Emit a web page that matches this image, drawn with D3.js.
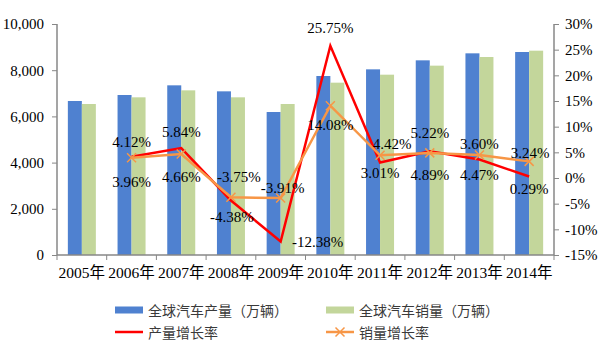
<!DOCTYPE html>
<html><head><meta charset="utf-8">
<script src="https://cdn.jsdelivr.net/npm/d3@7"></script>
<style>body{margin:0;background:#fff}svg{display:block}</style>
</head><body>
<svg id="c" width="600" height="345"></svg>
<script>
const years = ["2005年","2006年","2007年","2008年","2009年","2010年","2011年","2012年","2013年","2014年"];
const production = [6667, 6926, 7345, 7085, 6190, 7749, 8037, 8427, 8730, 8788];
const sales = [6537, 6826, 7128, 6826, 6537, 7460, 7806, 8197, 8571, 8845];
const prodGrowth = [null, 4.12, 5.84, -4.38, -12.38, 25.75, 3.01, 5.22, 3.60, 0.29];
const salesGrowth = [null, 3.96, 4.66, -3.75, -3.91, 14.08, 4.42, 4.89, 4.47, 3.24];
const leftTicks = [0, 2000, 4000, 6000, 8000, 10000];
const rightTicks = [-15, -10, -5, 0, 5, 10, 15, 20, 25, 30];
const legendNames = ["全球汽车产量（万辆）","全球汽车销量（万辆）","产量增长率","销量增长率"];

// label offsets (style only)
const prodLabelOff = [null,[0,-15],[0,-16],[1,17],[37,0],[0,-18],[0,10],[0,-18],[0,-16],[0,12]];
const salesLabelOff = [null,[0,24],[0,23],[8,-20],[2,-10],[0,19],[12,-11],[0,22],[0,20],[1,-8]];

const svg = d3.select("#c");
const L = 57, R = 554, T = 24, B = 255;
const x = d3.scaleBand().domain(years).range([L, R]);
const yL = d3.scaleLinear().domain([0, 10000]).range([B, T]);
const yR = d3.scaleLinear().domain([-15, 30]).range([B, T]);
const bw = 14;
const axisColor = "#878787";
const serif = "'Liberation Serif','Times New Roman','Noto Sans CJK SC',serif";

// bars
svg.append("g").selectAll("rect").data(production).join("rect")
  .attr("x", (d,i) => x(years[i]) + x.bandwidth()/2 - bw)
  .attr("y", d => yL(d)).attr("width", bw).attr("height", d => B - yL(d))
  .attr("fill", "#4F81D0");
svg.append("g").selectAll("rect").data(sales).join("rect")
  .attr("x", (d,i) => x(years[i]) + x.bandwidth()/2)
  .attr("y", d => yL(d)).attr("width", bw).attr("height", d => B - yL(d))
  .attr("fill", "#C3D69B");

// axes
const gl = svg.append("g").attr("transform", `translate(${L},0)`)
  .call(d3.axisLeft(yL).tickValues(leftTicks).tickFormat(d3.format(",")).tickSize(5).tickPadding(8));
const gr = svg.append("g").attr("transform", `translate(${R},0)`)
  .call(d3.axisRight(yR).tickValues(rightTicks).tickFormat(d => d + "%").tickSize(5).tickPadding(6));
const gb = svg.append("g").attr("transform", `translate(0,${B})`)
  .call(d3.axisBottom(x).tickSize(0).tickPadding(12));
// category boundary ticks
svg.append("g").selectAll("line").data(d3.range(years.length + 1)).join("line")
  .attr("x1", i => L + i * x.step()).attr("x2", i => L + i * x.step())
  .attr("y1", B).attr("y2", B + 5).attr("stroke", axisColor);
[gl, gr, gb].forEach(g => {
  g.selectAll("path").attr("stroke", axisColor).attr("stroke-width", 1.5);
  g.selectAll("line").attr("stroke", axisColor);
  g.selectAll("text").attr("font-family", serif).attr("font-size", 15).attr("fill", "#000");
});
gb.selectAll("text").attr("font-size", 15.5);
gl.select("path").attr("d", `M0,${T}V${B}`);
gr.select("path").attr("d", `M0,${T}V${B}`);
gb.select("path").attr("d", `M${L},0H${R}`);

// lines
const lineGen = yScale => d3.line().defined(d => d[1] != null)
  .x(d => x(d[0]) + x.bandwidth()/2).y(d => yScale(d[1]));
const prodPts = years.map((y,i) => [y, prodGrowth[i]]);
const salesPts = years.map((y,i) => [y, salesGrowth[i]]);
svg.append("path").datum(prodPts).attr("d", lineGen(yR))
  .attr("fill", "none").attr("stroke", "#FF0000").attr("stroke-width", 2.5).attr("stroke-linejoin", "miter");
svg.append("path").datum(salesPts).attr("d", lineGen(yR))
  .attr("fill", "none").attr("stroke", "#F79646").attr("stroke-width", 2.5);
// x markers
const mk = 4.5;
svg.append("g").selectAll("path").data(salesPts.filter(d => d[1] != null)).join("path")
  .attr("d", d => { const cx = x(d[0]) + x.bandwidth()/2, cy = yR(d[1]);
    return `M${cx-mk},${cy-mk}L${cx+mk},${cy+mk}M${cx-mk},${cy+mk}L${cx+mk},${cy-mk}`; })
  .attr("stroke", "#F79646").attr("stroke-width", 1.5);

// labels
function labels(vals, offs) {
  svg.append("g").selectAll("text").data(vals.map((v,i) => [i, v]).filter(d => d[1] != null)).join("text")
    .attr("x", d => x(years[d[0]]) + x.bandwidth()/2 + offs[d[0]][0])
    .attr("y", d => yR(d[1]) + offs[d[0]][1])
    .attr("text-anchor", "middle").attr("dominant-baseline", "central")
    .attr("font-family", serif).attr("font-size", 15).attr("fill", "#000")
    .text(d => d[1].toFixed(2) + "%");
}
labels(prodGrowth, prodLabelOff);
labels(salesGrowth, salesLabelOff);

// legend
const lg = svg.append("g").attr("font-family", "'Noto Sans CJK SC',sans-serif").attr("font-size", 14).attr("fill", "#3a3a3a");
const items = [
  {x:115, y:310, type:"rect", c:"#4F81D0"},
  {x:326, y:310, type:"rect", c:"#C3D69B"},
  {x:115, y:332, type:"line", c:"#FF0000"},
  {x:326, y:332, type:"xline", c:"#F79646"}
];
items.forEach((it, i) => {
  if (it.type === "rect") lg.append("rect").attr("x", it.x).attr("y", it.y - 3.5).attr("width", 28).attr("height", 7).attr("fill", it.c);
  else {
    lg.append("line").attr("x1", it.x).attr("x2", it.x + 28).attr("y1", it.y).attr("y2", it.y).attr("stroke", it.c).attr("stroke-width", 2.5);
    if (it.type === "xline") lg.append("path").attr("d", `M${it.x+14-mk},${it.y-mk}L${it.x+14+mk},${it.y+mk}M${it.x+14-mk},${it.y+mk}L${it.x+14+mk},${it.y-mk}`).attr("stroke", it.c).attr("stroke-width", 1.5);
  }
  lg.append("text").attr("x", it.x + 33).attr("y", it.y).attr("dominant-baseline", "central").text(legendNames[i]);
});
</script>
</body></html>
